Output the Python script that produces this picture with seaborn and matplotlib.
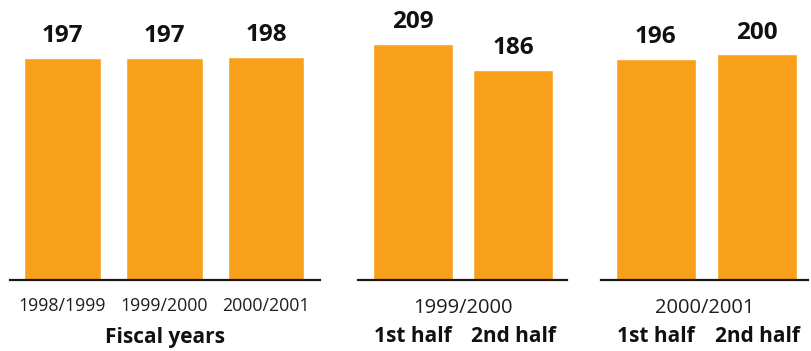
import pandas as pd
import matplotlib
matplotlib.use("Agg")
import matplotlib.pyplot as plt
import seaborn as sns

sns.set_theme(style="white")
plt.rcParams['font.family'] = ['Open Sans', 'DejaVu Sans']

# data
fiscal_years = ['1998/1999', '1999/2000', '2000/2001']
fiscal_values = [197, 197, 198]
halves = ['1st half', '2nd half']
half_9900_values = [209, 186]
half_0001_values = [196, 200]
group_labels = ['Fiscal years', '1999/2000', '2000/2001']

BAR = '#F9A01B'

fig = plt.figure(figsize=(8.12, 3.51), dpi=100)
bottom, height = 71 / 351, 274 / 351
ax1 = fig.add_axes([10 / 812, bottom, 310 / 812, height])
ax2 = fig.add_axes([358 / 812, bottom, 209 / 812, height])
ax3 = fig.add_axes([601 / 812, bottom, 207 / 812, height])

panels = [
    (ax1, fiscal_years, fiscal_values, 0.755, (-0.515, 2.53)),
    (ax2, halves, half_9900_values, 0.80, (-0.55, 1.54)),
    (ax3, halves, half_0001_values, 0.79, (-0.54, 1.5)),
]

for ax, cats, vals, w, xl in panels:
    df = pd.DataFrame({'cat': cats, 'val': vals})
    sns.barplot(data=df, x='cat', y='val', color=BAR, saturation=1,
                width=w, ax=ax)
    ax.set_ylim(0, 243)
    ax.set_xlim(*xl)
    ax.set_yticks([])
    ax.set_xlabel('')
    ax.set_ylabel('')
    sns.despine(ax=ax, left=True)
    ax.spines['bottom'].set_color('#1a1a1a')
    ax.spines['bottom'].set_linewidth(1.6)
    ax.tick_params(axis='x', length=0)
    for i, v in enumerate(vals):
        ax.annotate(str(v), xy=(i, v), xytext=(0, 11.5), textcoords='offset points',
                    ha='center', va='baseline', fontsize=17.5, fontweight='bold',
                    color='#111111')

# tick labels
ax1.tick_params(axis='x', pad=12, labelsize=12.8, labelcolor='#1e1e1e')
for ax in (ax2, ax3):
    ax.tick_params(axis='x', pad=33, labelsize=15, labelcolor='#111111')
    for t in ax.get_xticklabels():
        t.set_fontweight('bold')

# group labels under the axes
ax1.annotate(group_labels[0], xy=(0.5, 0), xycoords='axes fraction',
             xytext=(0, -45), textcoords='offset points', ha='center',
             va='baseline', fontsize=15, fontweight='bold', color='#111111')
for ax, lab in ((ax2, group_labels[1]), (ax3, group_labels[2])):
    ax.annotate(lab, xy=(0.5, 0), xycoords='axes fraction',
                xytext=(0, -23.5), textcoords='offset points', ha='center',
                va='baseline', fontsize=14.5, color='#1e1e1e')

plt.savefig("out.png", dpi=100)
plt.close()
